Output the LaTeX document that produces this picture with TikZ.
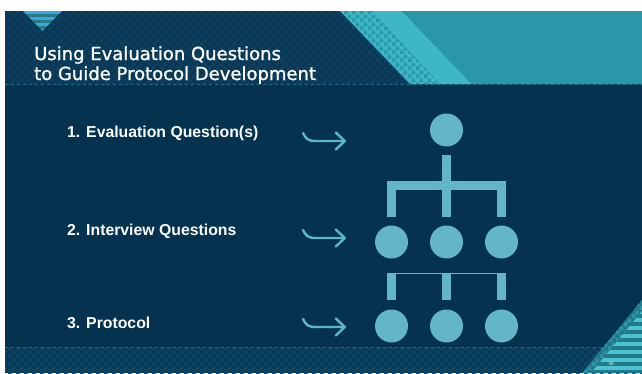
\documentclass[tikz,border=0pt]{standalone}
\usepackage{fontspec}
\setmainfont{Liberation Sans}
\newfontfamily\titlefont[FakeBold=1.2]{DejaVu Sans}
\usetikzlibrary{arrows.meta,patterns.meta}

\definecolor{slidebg}{HTML}{04324F}
\definecolor{headbg}{HTML}{0A3856}
\definecolor{headchk}{HTML}{0E4160}
\definecolor{footbg}{HTML}{093A58}
\definecolor{footchk}{HTML}{0E4766}
\definecolor{tealbg}{HTML}{2A97A8}
\definecolor{teallight}{HTML}{3DB6C6}
\definecolor{stripelight}{HTML}{4CC3D3}
\definecolor{stripedark}{HTML}{22798A}
\definecolor{triblue}{HTML}{37A7E2}
\definecolor{tritealc}{HTML}{2A7A86}
\definecolor{circ}{HTML}{62B6C8}
\definecolor{arrowc}{HTML}{5CB8C6}

\tikzdeclarepattern{
  name=checks,
  type=uncolored,
  bottom left={(0pt,0pt)},
  top right={(8pt,8pt)},
  tile size={(8pt,8pt)},
  code={
    \fill (0pt,0pt) rectangle (4pt,4pt);
    \fill (4pt,4pt) rectangle (8pt,8pt);
  }
}

\begin{document}
\begin{tikzpicture}[x=1pt,y=-1pt,
    dot/.style={circle,fill=circ,minimum size=33pt,inner sep=0pt},
    branch/.style={draw=circ,line width=9pt},
    hookarrow/.style={draw=arrowc,line width=2.4pt,line cap=round,
      -{Straight Barb[length=9pt,width=17pt,round]}},
    rowtext/.style={anchor=base west,text=white,inner sep=0pt,
      font=\bfseries\fontsize{15.8}{18}\selectfont},
    titletext/.style={anchor=base west,text=white,inner sep=0pt,
      font=\titlefont\fontsize{18}{20}\selectfont}]
  \useasboundingbox (0,0) rectangle (642,373);
  \fill[white] (0,0) rectangle (642,373);

  % slide background
  \fill[slidebg] (5,84) rectangle (642,347);
  \fill[headbg] (5,11) rectangle (642,84);
  \fill[pattern=checks,pattern color=headchk] (5,11) rectangle (642,84);
  \fill[footbg] (5,347) rectangle (642,373);
  \fill[pattern=checks,pattern color=footchk] (5,347) rectangle (642,373);
  \draw[tealbg!60!slidebg,line width=0.5pt,dashed] (5,84) -- (642,84);
  \draw[tealbg!60!slidebg,line width=0.5pt,dashed] (5,347) -- (642,347);

  % header corner
  \fill[teallight] (340,11) -- (372,11) -- (440,84) -- (410,84) -- cycle;
  \fill[pattern=checks,pattern color=tealbg] (340,11) -- (372,11) -- (440,84) -- (410,84) -- cycle;
  \fill[teallight] (372,11) -- (402,11) -- (472,84) -- (440,84) -- cycle;
  \fill[tealbg] (402,11) -- (642,11) -- (642,84) -- (472,84) -- cycle;

  \begin{scope}
    \clip (23,11) -- (62,11) -- (42.5,31) -- cycle;
    \foreach \k in {0,...,3} {
      \fill[triblue] (20,{11+6*\k}) rectangle (65,{14+6*\k});
      \fill[tritealc] (20,{14+6*\k}) rectangle (65,{17+6*\k});
    }
  \end{scope}

  % footer corner
  \fill[stripedark] (642,300) -- (642,373) -- (582,373) -- cycle;
  \fill[pattern=checks,pattern color=tealbg] (642,300) -- (642,373) -- (582,373) -- cycle;
  \begin{scope}
    \clip (642,311) -- (642,373) -- (591,373) -- cycle;
    \foreach \k in {0,...,8} {
      \fill[stripelight] (580,{310+8*\k}) rectangle (642,{314+8*\k});
      \fill[stripedark] (580,{314+8*\k}) rectangle (642,{318+8*\k});
    }
  \end{scope}
  \node[text=white!85!teallight,font=\fontsize{4.5}{5}\selectfont,inner sep=0pt] (pg) at (611,364) {38};

  \node[titletext] (title1) at (34,60) {Using Evaluation Questions};
  \node[titletext] (title2) at (34,80) {to Guide Protocol Development};

  \node[rowtext] (row1) at (67,137) {1. Evaluation Question(s)};
  \node[rowtext] (row2) at (67,235) {2. Interview Questions};
  \node[rowtext] (row3) at (67,328) {3. Protocol};

  \coordinate (a1) at (303,133);
  \coordinate (a2) at (303,230);
  \coordinate (a3) at (303,319);
  \foreach \a in {a1,a2,a3}
    \draw[hookarrow] (\a) .. controls +(3,6) and +(-8,0) .. ++(13,8) -- ++(30,0);

  \node[dot] (q) at (446.5,130) {};
  \foreach \n/\x in {1/391.5,2/446.5,3/501.5} {
    \node[dot] (i\n) at (\x,242) {};
    \node[dot] (p\n) at (\x,326) {};
  }

  \draw[branch] ([yshift=-8.5pt]q.south) -- ([yshift=8.5pt]i2.north);
  \draw[branch] ([yshift=8.5pt]i1.north) |- ([yshift=39.5pt]i2.north) -| ([yshift=8.5pt]i3.north);
  \foreach \n in {1,2,3}
    \draw[branch] ([yshift=-14.5pt]i\n.south) -- ([yshift=9.5pt]p\n.north);
  \draw[circ,line width=1pt] ([xshift=-4.5pt,yshift=-15pt]i1.south) -- ([xshift=4.5pt,yshift=-15pt]i3.south);
\end{tikzpicture}
\end{document}
